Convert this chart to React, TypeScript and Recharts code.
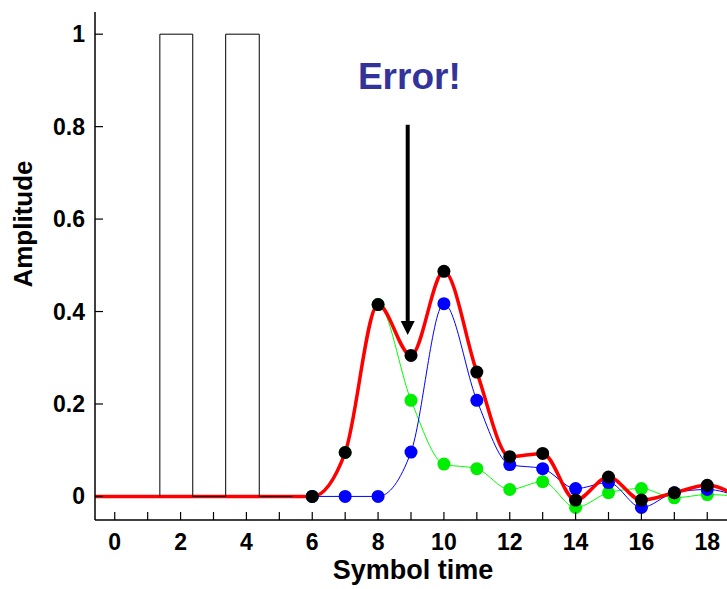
import React from 'react'
import { ComposedChart, Line, XAxis, YAxis, ReferenceLine, ReferenceDot } from 'recharts'

// symbol instants, sampled once per symbol (a point past each edge keeps the curves running out of the frame)
const symbolTimes = [-1, 0, 1, 2, 3, 4, 5, 6, 7, 8, 9, 10, 11, 12, 13, 14, 15, 16, 17, 18, 19]
// response to the first pulse (green)
const firstPulse = [0, 0, 0, 0, 0, 0, 0, 0, 0.095, 0.415, 0.208, 0.07, 0.06, 0.015, 0.032, -0.024, 0.008, 0.017, -0.003, 0.004, 0]
// response to the second pulse (blue)
const secondPulse = [0, 0, 0, 0, 0, 0, 0, 0, 0, 0, 0.096, 0.417, 0.208, 0.069, 0.06, 0.017, 0.03, -0.024, 0.008, 0.015, -0.002]
// what the receiver sees (red / black dots)
const received = [0, 0, 0, 0, 0, 0, 0, 0, 0.095, 0.415, 0.305, 0.487, 0.269, 0.086, 0.093, -0.008, 0.042, -0.008, 0.008, 0.024, -0.004]

// transmitted pulses
const pulseEdges = [1.37, 1.37, 2.37, 2.37, 3.37, 3.37, 4.39, 4.39, 5.4]
const pulseLevels = [0, 1, 1, 0, 0, 1, 1, 0, 0]

const xTicks = [0, 1, 2, 3, 4, 5, 6, 7, 8, 9, 10, 11, 12, 13, 14, 15, 16, 17, 18]
const yTicks = [0, 0.2, 0.4, 0.6, 0.8, 1]

const errorTime = 8.9
const arrowFrom = 0.804
const arrowTo = 0.349
const firstSampled = 6
const lastSampled = 18

const rows = symbolTimes.map((t, i) => ({
  t,
  first: firstPulse[i],
  second: secondPulse[i],
  sum: received[i],
}))
const pulses = pulseEdges.map((t, i) => ({ t, level: pulseLevels[i] }))

const FONT = '"Liberation Sans", Arial, Helvetica, sans-serif'

const makeDot = (fill: string, r: number) => (props: any) => {
  const { cx, cy, payload, index } = props
  if (payload.t < firstSampled || payload.t > lastSampled) return <g key={`n-${index}`} />
  return <circle key={`d-${index}`} cx={cx} cy={cy} r={r} fill={fill} stroke="none" />
}

const BottomTick = (props: any) => {
  const { x, y, payload } = props
  const v = payload.value
  return (
    <g>
      <line x1={x} x2={x} y1={y} y2={y - 8} stroke="#000" strokeWidth={1.2} />
      {v % 2 === 0 && (
        <text x={x} y={y + 30} textAnchor="middle" fontFamily={FONT} fontWeight="bold" fontSize={23} fill="#000">
          {v}
        </text>
      )}
    </g>
  )
}

const TopTick = (props: any) => {
  const { x, y } = props
  return <line x1={x} x2={x} y1={y} y2={y + 8} stroke="#000" strokeWidth={1.2} />
}

const LeftTick = (props: any) => {
  const { x, y, payload } = props
  return (
    <g>
      <line x1={x} x2={x + 8} y1={y} y2={y} stroke="#000" strokeWidth={1.2} />
      <text x={x - 10} y={y + 8} textAnchor="end" fontFamily={FONT} fontWeight="bold" fontSize={23} fill="#000">
        {payload.value}
      </text>
    </g>
  )
}

const ArrowHead = (props: any) => {
  const { cx, cy } = props
  return <polygon points={`${cx},${cy} ${cx - 7},${cy - 14} ${cx + 7},${cy - 14}`} fill="#000" />
}

const ErrorText = (props: any) => {
  const { cx, cy } = props
  return (
    <text x={cx} y={cy} textAnchor="middle" fontFamily={FONT} fontWeight="bold" fontSize={37} fill="#333399">
      Error!
    </text>
  )
}

export default function App() {
  return (
    <div style={{ position: 'absolute', left: 0, top: 0, background: '#fff' }}>
      <ComposedChart width={727} height={589} data={rows} margin={{ top: 12, right: 0, bottom: 0, left: 0 }}>
        <XAxis
          dataKey="t"
          type="number"
          domain={[-0.6, 18.6]}
          allowDataOverflow
          ticks={xTicks}
          interval={0}
          height={69}
          tickSize={0}
          tickMargin={0}
          tickLine={false}
          tick={<BottomTick />}
          axisLine={{ stroke: '#000', strokeWidth: 1.5 }}
          label={() => (
            <text x={413} y={579} textAnchor="middle" fontFamily={FONT} fontWeight="bold" fontSize={27} fill="#000">
              Symbol time
            </text>
          )}
        />
        <XAxis
          xAxisId="top"
          orientation="top"
          dataKey="t"
          type="number"
          domain={[-0.6, 18.6]}
          allowDataOverflow
          ticks={xTicks}
          interval={0}
          height={0}
          tickSize={0}
          tickMargin={0}
          tickLine={false}
          tick={<TopTick />}
          axisLine={{ stroke: '#000', strokeWidth: 1.5 }}
        />
        <YAxis
          type="number"
          domain={[-0.051, 1.048]}
          allowDataOverflow
          ticks={yTicks}
          interval={0}
          width={95}
          tickSize={0}
          tickMargin={0}
          tickLine={false}
          tick={<LeftTick />}
          axisLine={{ stroke: '#000', strokeWidth: 1.5 }}
          label={() => (
            <text
              transform="translate(32,224) rotate(-90)"
              textAnchor="middle"
              fontFamily={FONT}
              fontWeight="bold"
              fontSize={26}
              fill="#000"
            >
              Amplitude
            </text>
          )}
        />
        <Line
          dataKey="first"
          type="monotone"
          stroke="#00ff00"
          strokeWidth={1}
          dot={makeDot('#00ee00', 6.5)}
          activeDot={false}
          isAnimationActive={false}
        />
        <Line
          dataKey="second"
          type="monotone"
          stroke="#0000ff"
          strokeWidth={1}
          dot={makeDot('#0000ff', 6.5)}
          activeDot={false}
          isAnimationActive={false}
        />
        <Line
          dataKey="sum"
          type="monotone"
          stroke="#ff0000"
          strokeWidth={3.5}
          dot={makeDot('#000', 6.5)}
          activeDot={false}
          isAnimationActive={false}
        />
        <Line
          data={pulses}
          dataKey="level"
          type="linear"
          stroke="#000"
          strokeWidth={1}
          dot={false}
          activeDot={false}
          isAnimationActive={false}
        />
        <ReferenceLine
          segment={[
            { x: errorTime, y: arrowFrom },
            { x: errorTime, y: arrowTo + 0.02 },
          ]}
          stroke="#000"
          strokeWidth={4}
        />
        <ReferenceDot x={errorTime} y={arrowTo} shape={<ArrowHead />} />
        <ReferenceDot x={errorTime + 0.05} y={0.881} shape={<ErrorText />} />
      </ComposedChart>
    </div>
  )
}
